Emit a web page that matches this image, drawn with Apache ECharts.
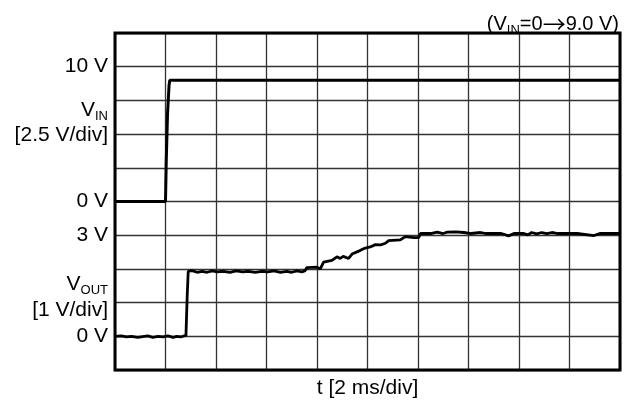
<!DOCTYPE html>
<html>
<head>
<meta charset="utf-8">
<script src="https://cdn.jsdelivr.net/npm/echarts@6/dist/echarts.min.js"></script>
<style>html,body{margin:0;padding:0;background:#fff}#c{width:634px;height:405px}</style>
</head>
<body>
<div id="c"></div>
<script>
// time in ms (2 ms/div)
const vinTime = [0, 2.0, 2.03, 2.08, 2.14, 2.17, 20];
const vinVolt = [0, 0, 3, 6.5, 8.6, 9.0, 9.0];

const voutTime = [0,0.25,0.45,0.65,0.9,1.1,1.3,1.5,1.7,1.9,2.1,2.3,2.45,2.6,2.72,2.81,2.83,2.86,2.90,
  3.05,3.25,3.45,3.65,3.85,4.05,4.3,4.55,4.8,5.05,5.3,5.55,5.8,6.05,6.3,6.55,6.8,7.0,7.2,7.4,7.53,
  7.60,8.00,8.13,8.26,8.59,8.79,8.92,9.04,9.25,9.39,9.72,9.91,10.11,10.31,10.51,10.71,10.84,11.30,11.50,11.83,12.03,
  12.10,12.5,12.76,13.0,13.16,13.5,13.82,14.1,14.48,14.7,15.3,15.59,15.8,16.19,16.35,16.5,16.7,16.9,17.1,17.3,17.54,18.3,18.97,19.2,20];
const voutVolt = [0,0.01,-0.02,0,-0.03,-0.01,0.01,-0.03,0,-0.02,0.01,-0.03,0,-0.02,0.01,0.02,0.5,1.2,1.93,
  1.95,1.90,1.93,1.90,1.94,1.91,1.93,1.90,1.94,1.91,1.93,1.90,1.93,1.91,1.94,1.90,1.93,1.90,1.94,1.91,1.95,
  2.04,2.05,2.00,2.20,2.25,2.36,2.31,2.37,2.31,2.44,2.55,2.62,2.65,2.72,2.71,2.76,2.84,2.86,2.96,2.93,2.93,
  3.05,3.05,3.09,3.05,3.09,3.10,3.08,3.05,3.08,3.05,3.05,2.98,3.05,3.05,3.01,3.08,3.04,3.08,3.05,3.08,3.05,3.05,2.99,3.05,3.05];

// axis label positions (in each axis's volts) and texts
const vinLabelVals = [10, 6.8, 4.9, 0];
const vinLabelTexts = ['10 V', '{v|V}{sub|IN}', '[2.5 V/div]', '0 V'];
const voutLabelVals = [3, 1.55, 0.78, 0];
const voutLabelTexts = ['3 V', '{v|V}{sub|OUT}', '[1 V/div]', '0 V'];
const xName = 't [2 ms/div]';
const titleText = '{a|(V}{sub|IN}{a|=0}{arr|\u2192}{a|9.0 V)}';

const FONT = 'Liberation Sans, Arial, sans-serif';
const FS = 21;
const rich = {
  v: {fontSize: FS, fontFamily: FONT, color: '#000', lineHeight: 26},
  sub: {fontSize: 13, fontFamily: FONT, color: '#000', lineHeight: 11, verticalAlign: 'bottom'}
};
function lab(vals, texts) {
  return function (v) {
    for (let i = 0; i < vals.length; i++) if (Math.abs(vals[i] - v) < 1e-6) return texts[i];
    return '';
  };
}

const chart = echarts.init(document.getElementById('c'), null, {renderer: 'canvas'});
chart.setOption({
  animation: false,
  backgroundColor: '#fff',
  title: {
    text: titleText,
    right: 10, top: 6,
    textStyle: {fontWeight: 'normal', rich: {
      a: {fontSize: 20, fontFamily: FONT, color: '#000', lineHeight: 26, fontWeight: 'normal'},
      arr: {fontSize: 23, fontFamily: 'Noto Sans CJK JP', color: '#000', lineHeight: 26, fontWeight: 'normal'},
      sub: Object.assign({}, rich.sub, {fontWeight: 'normal'})
    }}
  },
  grid: {left: 115, right: 14, top: 33, bottom: 35, show: true, borderColor: '#000', borderWidth: 3,
    backgroundColor: 'transparent', z: 3, outerBoundsMode: 'none', containLabel: false},
  xAxis: {
    type: 'value', min: 0, max: 20, interval: 2,
    name: xName, nameLocation: 'middle', nameGap: 8,
    nameTextStyle: {fontSize: FS, fontFamily: FONT, color: '#000'},
    axisLine: {show: false}, axisTick: {show: false}, axisLabel: {show: false},
    splitLine: {show: true, lineStyle: {color: '#333', width: 1.3}}
  },
  yAxis: [{
    type: 'value', min: -12.5, max: 12.5, interval: 2.5, position: 'left',
    axisLine: {show: false}, axisTick: {show: false},
    splitLine: {show: true, lineStyle: {color: '#333', width: 1.3}},
    axisLabel: {customValues: vinLabelVals, formatter: lab(vinLabelVals, vinLabelTexts), fontSize: FS, fontFamily: FONT, color: '#000', margin: 7, rich: rich, lineHeight: 26}
  }, {
    type: 'value', min: -1, max: 9, interval: 1, position: 'left',
    axisLine: {show: false}, axisTick: {show: false},
    splitLine: {show: false},
    axisLabel: {customValues: voutLabelVals, formatter: lab(voutLabelVals, voutLabelTexts), fontSize: FS, fontFamily: FONT, color: '#000', margin: 7, rich: rich, lineHeight: 26}
  }],
  series: [{
    type: 'line', yAxisIndex: 0, showSymbol: false, symbol: 'none', z: 5,
    lineStyle: {color: '#000', width: 3},
    data: vinTime.map((t, i) => [t, vinVolt[i]])
  }, {
    type: 'line', yAxisIndex: 1, showSymbol: false, symbol: 'none', z: 5,
    lineStyle: {color: '#000', width: 2.8},
    data: voutTime.map((t, i) => [t, voutVolt[i]])
  }]
});
</script>
</body>
</html>
